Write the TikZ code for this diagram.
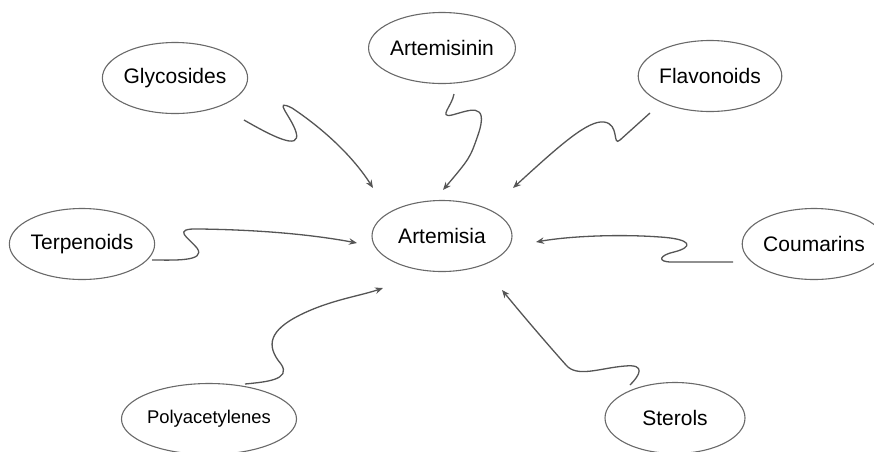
\documentclass[tikz,border=0pt]{standalone}
\usepackage{fontspec}
\setmainfont{Liberation Sans}
\usepackage{xcolor}
\definecolor{wiregray}{RGB}{85,85,85}
\definecolor{rimgray}{RGB}{105,105,105}
\usetikzlibrary{shapes.geometric, arrows.meta}

\begin{document}
\begin{tikzpicture}[x=1pt, y=-1pt,
  part/.style={ellipse, draw=rimgray, line width=1.1pt, minimum width=140pt, minimum height=71pt, inner sep=0pt, font=\fontsize{21}{24}\selectfont},
  smallpart/.style={part, font=\fontsize{18.4}{22}\selectfont},
  wiggle/.style={-{Stealth[length=8pt, width=6.5pt]}, draw=wiregray, line width=1.3pt}
]
\useasboundingbox (0,0) rectangle (874,451);

% Centre
\node[part] (art) at (442,236) {Artemisia};

% Constituents
\node[part] (gly) at (175,78) {Glycosides};
\node[part] (ain) at (442,48) {Artemisinin};
\node[part] (fla) at (710,76) {Flavonoids};
\node[part] (ter) at (82,244) {Terpenoids};
\node[part] (cou) at (814,244) {Coumarins};
\node[smallpart] (pol) at (209,419) {Polyacetylenes};
\node[part] (ste) at (675,418) {Sterols};

% Free ends
\coordinate (g0) at (244,120);
\coordinate (a0) at (454,94);
\coordinate (f0) at (650,113);
\coordinate (t0) at (152,260);
\coordinate (c0) at (733,262);
\coordinate (p0) at (245,384);
\coordinate (s0) at (630,385);

% Wiggly arrows
\draw[wiggle] (g0) .. controls (270,135) and (302,152) .. (296,132)
  .. controls (291,116) and (272,98) .. (292,108)
  .. controls (322,128) and (352,155) .. (373,188);
\draw[wiggle] (a0) .. controls (452,106) and (438,118) .. (452,115)
  .. controls (468,111) and (490,100) .. (478,135)
  .. controls (470,158) .. (443,190);
\draw[wiggle] (f0) -- (620,140) .. controls (612,147) and (620,124) .. (604,122)
  .. controls (588,120) and (560,145) .. (513,188);
\draw[wiggle] (t0) .. controls (172,260) and (207,262) .. (197,248)
  .. controls (189,238) and (170,228) .. (200,229)
  .. controls (270,230) and (320,236) .. (357,243);
\draw[wiggle] (c0) -- (672,262) .. controls (656,262) and (660,255) .. (674,252)
  .. controls (694,247) and (692,239) .. (660,237)
  .. controls (620,234) and (570,236) .. (536,242);
\draw[wiggle] (p0) .. controls (265,382) and (292,380) .. (281,364)
  .. controls (265,345) and (270,330) .. (300,315)
  .. controls (330,300) and (360,296) .. (383,288);
\draw[wiggle] (s0) .. controls (640,375) and (646,364) .. (625,366)
  .. controls (600,368) and (577,378) .. (566,365)
  .. controls (542,338) and (520,312) .. (502,290);

\end{tikzpicture}
\end{document}
